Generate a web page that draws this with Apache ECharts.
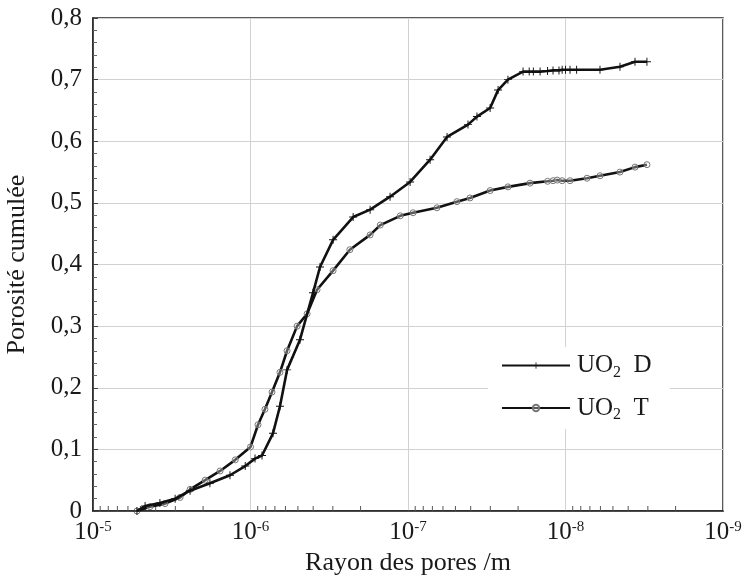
<!DOCTYPE html>
<html><head><meta charset="utf-8">
<script src="https://cdn.jsdelivr.net/npm/echarts@6/dist/echarts.min.js"></script>
<style>html,body{margin:0;padding:0;background:#fff}#c{width:745px;height:585px}</style>
</head><body><div id="c"></div>
<script>
// Pore radius (m) and cumulative porosity
const radiusD = [5.26e-6,4.67e-6,3.76e-6,3.01e-6,2.42e-6,1.81e-6,1.35e-6,1.08e-6,9.36e-7,8.45e-7,7.2e-7,6.5e-7,5.86e-7,4.85e-7,4.01e-7,3.62e-7,2.99e-7,2.23e-7,1.74e-7,1.30e-7,9.7e-8,7.24e-8,5.65e-8,4.16e-8,3.65e-8,3.01e-8,2.68e-8,2.32e-8,1.86e-8,1.7e-8,1.6e-8,1.45e-8,1.3e-8,1.2e-8,1.1e-8,1.05e-8,1.0e-8,9.36e-9,8.5e-9,6.04e-9,4.51e-9,3.62e-9,3.04e-9];
const porosD = [0.0,0.008,0.013,0.02,0.033,0.045,0.058,0.073,0.085,0.09,0.126,0.17,0.229,0.278,0.354,0.396,0.44,0.477,0.489,0.51,0.534,0.57,0.607,0.627,0.64,0.654,0.683,0.70,0.713,0.713,0.713,0.713,0.714,0.715,0.715,0.716,0.716,0.716,0.716,0.716,0.721,0.729,0.729];
const radiusT = [5.26e-6,4.35e-6,3.49e-6,2.8e-6,2.42e-6,1.94e-6,1.56e-6,1.25e-6,1.0e-6,8.96e-7,8.1e-7,7.3e-7,6.5e-7,5.86e-7,5.06e-7,4.37e-7,3.78e-7,2.99e-7,2.34e-7,1.74e-7,1.5e-7,1.12e-7,9.29e-8,6.55e-8,4.89e-8,4.04e-8,3.01e-8,2.32e-8,1.68e-8,1.3e-8,1.2e-8,1.13e-8,1.05e-8,9.36e-9,7.3e-9,6.04e-9,4.51e-9,3.62e-9,3.04e-9];
const porosT = [0.0,0.007,0.012,0.022,0.035,0.05,0.065,0.083,0.104,0.14,0.165,0.193,0.225,0.26,0.30,0.32,0.359,0.39,0.424,0.448,0.464,0.479,0.484,0.492,0.502,0.508,0.52,0.526,0.532,0.535,0.536,0.537,0.536,0.536,0.54,0.544,0.55,0.558,0.562];
const xTickLabels = {'-5':'10{s|-5}','-6':'10{s|-6}','-7':'10{s|-7}','-8':'10{s|-8}','-9':'10{s|-9}'};
const minorTicks = [];
for (let e = -9; e < -5; e++) for (let m = 2; m <= 9; m++) minorTicks.push(m * Math.pow(10, e));

const FONT = 'Liberation Serif';
const TXT = '#1a1a1a';
const chart = echarts.init(document.getElementById('c'));
const crossPath = 'path://M0,4.4 L10,4.4 L10,5.6 L0,5.6 Z M4.4,0 L5.6,0 L5.6,10 L4.4,10 Z';
chart.setOption({
  animation: false,
  backgroundColor: '#fff',
  textStyle: {fontFamily: FONT},
  grid: {left: 93, right: 22, top: 18, bottom: 74, outerBoundsMode: 'none', containLabel: false,
    show: true, borderColor: '#222', borderWidth: 1.5, backgroundColor: 'transparent'},
  legend: {
    orient: 'vertical', left: 488, top: 347, data: ['UO2 D', 'UO2 T'],
    itemWidth: 68, itemHeight: 8, itemGap: 15, backgroundColor: '#fff', padding: [6, 18, 6, 13],
    formatter: n => n === 'UO2 D' ? 'UO{b|2}  D' : 'UO{b|2}  T',
    textStyle: {fontFamily: FONT, fontSize: 25, color: TXT, padding: [0, 0, 0, 2],
      rich: {b: {fontFamily: FONT, fontSize: 16, color: TXT, verticalAlign: 'bottom', padding: [14, 0, 0, 0]}}}
  },
  xAxis: {
    type: 'log', logBase: 10, min: 1e-9, max: 1e-5, inverse: true,
    name: 'Rayon des pores /m', nameLocation: 'middle', nameGap: 36,
    nameTextStyle: {fontFamily: FONT, fontSize: 26, color: TXT},
    axisLine: {lineStyle: {color: '#222', width: 1.5}},
    axisTick: {show: false},
    splitLine: {show: true, lineStyle: {color: '#d2d2d2', width: 1}},
    axisLabel: {
      margin: 9, fontFamily: FONT, fontSize: 25, color: TXT,
      formatter: v => xTickLabels[String(Math.round(Math.log10(v)))] || '',
      rich: {s: {fontFamily: FONT, fontSize: 15, color: TXT, verticalAlign: 'top', padding: [0, 0, 10, 0]}}
    }
  },
  yAxis: {
    type: 'value', min: 0, max: 0.8, interval: 0.1,
    name: 'Porosité cumulée', nameLocation: 'middle', nameGap: 63,
    nameTextStyle: {fontFamily: FONT, fontSize: 26, color: TXT},
    axisLine: {lineStyle: {color: '#222', width: 1.5}},
    axisTick: {inside: true, length: 5, lineStyle: {color: '#444'}},
    minorTick: {show: true, splitNumber: 5, length: 4, lineStyle: {color: '#666'}},
    splitLine: {show: true, lineStyle: {color: '#d2d2d2', width: 1}},
    axisLabel: {margin: 11, fontFamily: FONT, fontSize: 25, color: TXT,
      formatter: v => v === 0 ? '0' : v.toFixed(1).replace('.', ',')}
  },
  series: [
    {
      name: 'minor', type: 'custom', silent: true, z: 3,
      data: minorTicks.map(v => [v, 0]),
      renderItem: (params, api) => {
        const p = api.coord([api.value(0), 0]);
        return {type: 'line', shape: {x1: p[0], y1: p[1], x2: p[0], y2: p[1] - 5}, style: {stroke: '#555', lineWidth: 1}};
      }
    },
    {
      name: 'UO2 D', type: 'line', data: radiusD.map((r, i) => [r, porosD[i]]),
      symbol: crossPath, symbolSize: 8, showAllSymbol: true,
      lineStyle: {color: '#111', width: 2.6}, itemStyle: {color: '#111'}, z: 5
    },
    {
      name: 'UO2 T', type: 'line', data: radiusT.map((r, i) => [r, porosT[i]]),
      symbol: 'circle', symbolSize: 6, showAllSymbol: true,
      lineStyle: {color: '#111', width: 2.6}, itemStyle: {color: 'rgba(255,255,255,0.3)', borderColor: '#777', borderWidth: 1}, z: 4
    }
  ]
});
</script></body></html>
